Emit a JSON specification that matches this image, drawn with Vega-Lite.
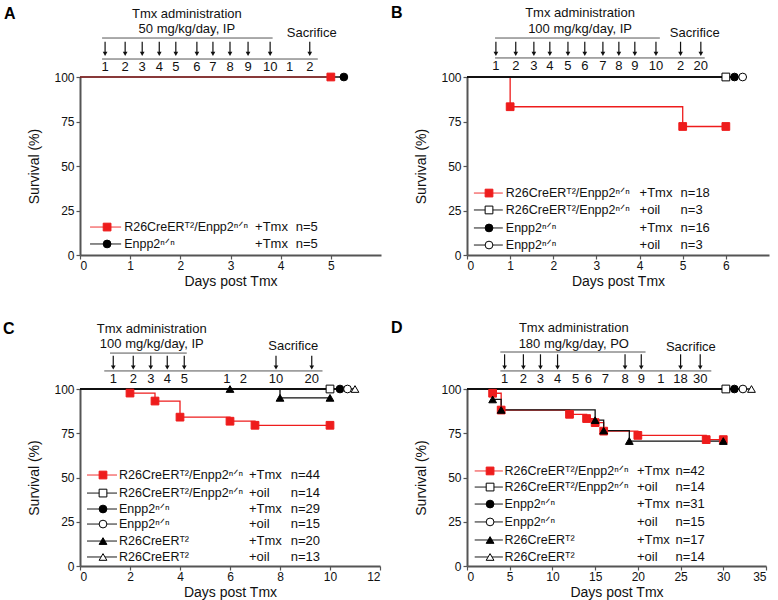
{
  "$schema": "https://vega.github.io/schema/vega-lite/v6.json",
  "padding": {"left": 3, "top": 4, "right": 2, "bottom": 2},
  "config": {
    "font": "Liberation Sans, DejaVu Sans, sans-serif",
    "view": {"stroke": null},
    "axis": {"grid": false, "domainColor": "#555", "domainWidth": 2, "tickColor": "#555", "tickWidth": 1.2, "tickSize": 4, "labelFontSize": 12, "labelColor": "#111", "titleFontSize": 14, "titleFontWeight": "normal", "titleColor": "#111"},
    "axisX": {"labelPadding": 1, "titlePadding": 3},
    "axisY": {"titlePadding": 12, "labelPadding": 2},
    "title": {"anchor": "start", "frame": "group", "fontSize": 16, "fontWeight": "bold", "color": "#000", "offset": -14},
    "text": {"fontSize": 13, "color": "#111", "baseline": "middle"}
  },
  "vconcat": [
    {"hconcat": [
      {
        "title": {"text": "A", "dx": -76},
        "width": 301, "height": 178,
        "layer": [
          {"data": {"values": [
            {"series": "ko_tmx", "day": 0, "surv": 100}, {"series": "ko_tmx", "day": 5, "surv": 100},
            {"series": "wt_tmx", "day": 0, "surv": 100}, {"series": "wt_tmx", "day": 5.26, "surv": 100}
          ]},
          "encoding": {
            "x": {"field": "day", "type": "quantitative", "scale": {"domain": [0, 6], "nice": false, "zero": false}, "axis": {"values": [0, 1, 2, 3, 4, 5]}, "title": "Days post Tmx"},
            "y": {"field": "surv", "type": "quantitative", "scale": {"domain": [0, 100], "nice": false}, "axis": {"values": [0, 25, 50, 75, 100]}, "title": "Survival (%)"}
          },
          "layer": [
            {"transform": [{"filter": "datum.series != 'ko_tmx'"}], "mark": {"type": "line", "interpolate": "step-after", "strokeWidth": 1.3, "color": "#111"}, "encoding": {"detail": {"field": "series"}}},
            {"transform": [{"filter": "datum.series == 'ko_tmx'"}], "mark": {"type": "line", "interpolate": "step-after", "strokeWidth": 1.3, "color": "#ee1c1c", "opacity": 0.5}},
            {"transform": [{"filter": "datum.day > 0"}], "mark": {"type": "point", "opacity": 1, "size": 60, "strokeWidth": 1},
             "encoding": {
               "shape": {"field": "series", "scale": {"domain": ["ko_tmx", "ko_oil", "wt_tmx", "wt_oil", "cre_tmx", "cre_oil"], "range": ["square", "square", "circle", "circle", "triangle-up", "triangle-up"]}, "legend": null},
               "fill": {"field": "series", "scale": {"domain": ["ko_tmx", "ko_oil", "wt_tmx", "wt_oil", "cre_tmx", "cre_oil"], "range": ["#ee1c1c", "#ffffff", "#000000", "#ffffff", "#000000", "#ffffff"]}, "legend": null},
               "stroke": {"field": "series", "scale": {"domain": ["ko_tmx", "ko_oil", "wt_tmx", "wt_oil", "cre_tmx", "cre_oil"], "range": ["#ee1c1c", "#000000", "#000000", "#000000", "#000000", "#000000"]}, "legend": null}
             }}
          ]},
          {"data": {"values": [
            {"text": "Tmx administration", "day": 2.13, "level": 135.4},
            {"text": "50 mg/kg/day, IP", "day": 2.13, "level": 127},
            {"text": "Sacrifice", "day": 4.62, "level": 124.7}
          ]},
          "mark": {"type": "text", "align": "center"},
          "encoding": {
            "x": {"field": "day", "type": "quantitative", "scale": {"domain": [0, 6], "nice": false, "zero": false}, "title": "Days post Tmx"},
            "y": {"field": "level", "type": "quantitative", "scale": {"domain": [0, 100], "nice": false}, "title": "Survival (%)"},
            "text": {"field": "text"}}},
          {"data": {"values": [
            {"day": 0.44, "day2": 3.84, "level": 121.9},
            {"day": 0.44, "day2": 4.74, "level": 110.1}
          ]},
          "mark": {"type": "rule", "color": "#555", "strokeWidth": 1},
          "encoding": {
            "x": {"field": "day", "type": "quantitative", "scale": {"domain": [0, 6], "nice": false, "zero": false}, "title": "Days post Tmx"},
            "x2": {"field": "day2"},
            "y": {"field": "level", "type": "quantitative", "scale": {"domain": [0, 100], "nice": false}, "title": "Survival (%)"}}},
          {"data": {"values": [
            {"day": 0.5, "lab": "1", "arrow": true}, {"day": 0.9, "lab": "2", "arrow": true}, {"day": 1.24, "lab": "3", "arrow": true},
            {"day": 1.58, "lab": "4", "arrow": true}, {"day": 1.91, "lab": "5", "arrow": true}, {"day": 2.33, "lab": "6", "arrow": true},
            {"day": 2.65, "lab": "7", "arrow": true}, {"day": 2.99, "lab": "8", "arrow": true}, {"day": 3.35, "lab": "9", "arrow": true},
            {"day": 3.79, "lab": "10", "arrow": true}, {"day": 4.18, "lab": "1", "arrow": false}, {"day": 4.58, "lab": "2", "arrow": true}
          ]},
          "encoding": {"x": {"field": "day", "type": "quantitative", "scale": {"domain": [0, 6], "nice": false, "zero": false}, "title": "Days post Tmx"}},
          "layer": [
            {"mark": {"type": "text", "align": "center"}, "encoding": {"y": {"datum": 105.7, "scale": {"domain": [0, 100], "nice": false}}, "text": {"field": "lab"}}},
            {"transform": [{"filter": "datum.arrow"}], "mark": {"type": "rule", "color": "#111", "strokeWidth": 1.2}, "encoding": {"y": {"datum": 119.8, "scale": {"domain": [0, 100], "nice": false}}, "y2": {"datum": 113.4}}},
            {"transform": [{"filter": "datum.arrow"}], "mark": {"type": "point", "shape": "triangle-down", "filled": true, "color": "#111", "size": 22, "opacity": 1}, "encoding": {"y": {"datum": 113, "scale": {"domain": [0, 100], "nice": false}}}}
          ]},
          {"data": {"values": [
            {"series": "ko_tmx", "label": "R26CreERᵀ²/Enpp2ⁿᐟⁿ", "treat": "+Tmx", "n": "n=5", "level": 15.7},
            {"series": "wt_tmx", "label": "Enpp2ⁿᐟⁿ", "treat": "+Tmx", "n": "n=5", "level": 6.2}
          ]},
          "encoding": {"y": {"field": "level", "type": "quantitative", "scale": {"domain": [0, 100], "nice": false}, "title": "Survival (%)"}},
          "layer": [
            {"mark": {"type": "rule", "strokeWidth": 1.3, "strokeOpacity": 0.7}, "encoding": {"x": {"datum": 0.2, "scale": {"domain": [0, 6], "nice": false, "zero": false}}, "x2": {"datum": 0.82},
              "stroke": {"field": "series", "scale": {"domain": ["ko_tmx", "ko_oil", "wt_tmx", "wt_oil", "cre_tmx", "cre_oil"], "range": ["#ee1c1c", "#000000", "#000000", "#000000", "#000000", "#000000"]}, "legend": null}}},
            {"mark": {"type": "point", "opacity": 1, "size": 60, "strokeWidth": 1}, "encoding": {"x": {"datum": 0.54, "scale": {"domain": [0, 6], "nice": false, "zero": false}},
              "shape": {"field": "series", "scale": {"domain": ["ko_tmx", "ko_oil", "wt_tmx", "wt_oil", "cre_tmx", "cre_oil"], "range": ["square", "square", "circle", "circle", "triangle-up", "triangle-up"]}, "legend": null},
              "fill": {"field": "series", "scale": {"domain": ["ko_tmx", "ko_oil", "wt_tmx", "wt_oil", "cre_tmx", "cre_oil"], "range": ["#ee1c1c", "#ffffff", "#000000", "#ffffff", "#000000", "#ffffff"]}, "legend": null},
              "stroke": {"field": "series", "scale": {"domain": ["ko_tmx", "ko_oil", "wt_tmx", "wt_oil", "cre_tmx", "cre_oil"], "range": ["#ee1c1c", "#000000", "#000000", "#000000", "#000000", "#000000"]}, "legend": null}}},
            {"mark": {"type": "text", "align": "left", "fontSize": 12.5}, "encoding": {"x": {"datum": 0.88, "scale": {"domain": [0, 6], "nice": false, "zero": false}}, "text": {"field": "label"}}},
            {"mark": {"type": "text", "align": "left"}, "encoding": {"x": {"datum": 3.49, "scale": {"domain": [0, 6], "nice": false, "zero": false}}, "text": {"field": "treat"}}},
            {"mark": {"type": "text", "align": "left"}, "encoding": {"x": {"datum": 4.3, "scale": {"domain": [0, 6], "nice": false, "zero": false}}, "text": {"field": "n"}}}
          ]}
        ]
      },
      {
        "title": {"text": "B", "dx": -76},
        "width": 302, "height": 178,
        "layer": [
          {"data": {"values": [
            {"series": "ko_tmx", "day": 0, "surv": 100}, {"series": "ko_tmx", "day": 1, "surv": 83.3}, {"series": "ko_tmx", "day": 5, "surv": 72.2}, {"series": "ko_tmx", "day": 6, "surv": 72.2},
            {"series": "ko_oil", "day": 0, "surv": 100}, {"series": "ko_oil", "day": 6, "surv": 100},
            {"series": "wt_tmx", "day": 0, "surv": 100}, {"series": "wt_tmx", "day": 6.2, "surv": 100},
            {"series": "wt_oil", "day": 0, "surv": 100}, {"series": "wt_oil", "day": 6.39, "surv": 100}
          ]},
          "encoding": {
            "x": {"field": "day", "type": "quantitative", "scale": {"domain": [0, 7], "nice": false, "zero": false}, "axis": {"values": [0, 1, 2, 3, 4, 5, 6]}, "title": "Days post Tmx"},
            "y": {"field": "surv", "type": "quantitative", "scale": {"domain": [0, 100], "nice": false}, "axis": {"values": [0, 25, 50, 75, 100]}, "title": "Survival (%)"}
          },
          "layer": [
            {"transform": [{"filter": "datum.series == 'ko_tmx'"}], "mark": {"type": "line", "interpolate": "step-after", "strokeWidth": 1.3, "color": "#ee1c1c"}},
            {"transform": [{"filter": "datum.series != 'ko_tmx'"}], "mark": {"type": "line", "interpolate": "step-after", "strokeWidth": 1.3, "color": "#111"}, "encoding": {"detail": {"field": "series"}}},
            {"transform": [{"filter": "datum.day > 0"}], "mark": {"type": "point", "opacity": 1, "size": 60, "strokeWidth": 1},
             "encoding": {
               "shape": {"field": "series", "scale": {"domain": ["ko_tmx", "ko_oil", "wt_tmx", "wt_oil", "cre_tmx", "cre_oil"], "range": ["square", "square", "circle", "circle", "triangle-up", "triangle-up"]}, "legend": null},
               "fill": {"field": "series", "scale": {"domain": ["ko_tmx", "ko_oil", "wt_tmx", "wt_oil", "cre_tmx", "cre_oil"], "range": ["#ee1c1c", "#ffffff", "#000000", "#ffffff", "#000000", "#ffffff"]}, "legend": null},
               "stroke": {"field": "series", "scale": {"domain": ["ko_tmx", "ko_oil", "wt_tmx", "wt_oil", "cre_tmx", "cre_oil"], "range": ["#ee1c1c", "#000000", "#000000", "#000000", "#000000", "#000000"]}, "legend": null}
             }}
          ]},
          {"data": {"values": [
            {"text": "Tmx administration", "day": 2.62, "level": 136},
            {"text": "100 mg/kg/day, IP", "day": 2.62, "level": 127},
            {"text": "Sacrifice", "day": 5.28, "level": 124.7}
          ]},
          "mark": {"type": "text", "align": "center"},
          "encoding": {
            "x": {"field": "day", "type": "quantitative", "scale": {"domain": [0, 7], "nice": false, "zero": false}, "title": "Days post Tmx"},
            "y": {"field": "level", "type": "quantitative", "scale": {"domain": [0, 100], "nice": false}, "title": "Survival (%)"},
            "text": {"field": "text"}}},
          {"data": {"values": [
            {"day": 0.65, "day2": 4.47, "level": 121.9},
            {"day": 0.65, "day2": 5.51, "level": 110.7}
          ]},
          "mark": {"type": "rule", "color": "#555", "strokeWidth": 1},
          "encoding": {
            "x": {"field": "day", "type": "quantitative", "scale": {"domain": [0, 7], "nice": false, "zero": false}, "title": "Days post Tmx"},
            "x2": {"field": "day2"},
            "y": {"field": "level", "type": "quantitative", "scale": {"domain": [0, 100], "nice": false}, "title": "Survival (%)"}}},
          {"data": {"values": [
            {"day": 0.67, "lab": "1", "arrow": true}, {"day": 1.13, "lab": "2", "arrow": true}, {"day": 1.55, "lab": "3", "arrow": true},
            {"day": 1.92, "lab": "4", "arrow": true}, {"day": 2.34, "lab": "5", "arrow": true}, {"day": 2.73, "lab": "6", "arrow": true},
            {"day": 3.15, "lab": "7", "arrow": true}, {"day": 3.52, "lab": "8", "arrow": true}, {"day": 3.89, "lab": "9", "arrow": true},
            {"day": 4.38, "lab": "10", "arrow": true}, {"day": 4.95, "lab": "2", "arrow": true}, {"day": 5.42, "lab": "20", "arrow": true}
          ]},
          "encoding": {"x": {"field": "day", "type": "quantitative", "scale": {"domain": [0, 7], "nice": false, "zero": false}, "title": "Days post Tmx"}},
          "layer": [
            {"mark": {"type": "text", "align": "center"}, "encoding": {"y": {"datum": 106, "scale": {"domain": [0, 100], "nice": false}}, "text": {"field": "lab"}}},
            {"transform": [{"filter": "datum.arrow"}], "mark": {"type": "rule", "color": "#111", "strokeWidth": 1.2}, "encoding": {"y": {"datum": 119.8, "scale": {"domain": [0, 100], "nice": false}}, "y2": {"datum": 113.4}}},
            {"transform": [{"filter": "datum.arrow"}], "mark": {"type": "point", "shape": "triangle-down", "filled": true, "color": "#111", "size": 22, "opacity": 1}, "encoding": {"y": {"datum": 113, "scale": {"domain": [0, 100], "nice": false}}}}
          ]},
          {"data": {"values": [
            {"series": "ko_tmx", "label": "R26CreERᵀ²/Enpp2ⁿᐟⁿ", "treat": "+Tmx", "n": "n=18", "level": 34.8},
            {"series": "ko_oil", "label": "R26CreERᵀ²/Enpp2ⁿᐟⁿ", "treat": "+oil", "n": "n=3", "level": 25.3},
            {"series": "wt_tmx", "label": "Enpp2ⁿᐟⁿ", "treat": "+Tmx", "n": "n=16", "level": 15.2},
            {"series": "wt_oil", "label": "Enpp2ⁿᐟⁿ", "treat": "+oil", "n": "n=3", "level": 5.6}
          ]},
          "encoding": {"y": {"field": "level", "type": "quantitative", "scale": {"domain": [0, 100], "nice": false}, "title": "Survival (%)"}},
          "layer": [
            {"mark": {"type": "rule", "strokeWidth": 1.3, "strokeOpacity": 0.7}, "encoding": {"x": {"datum": 0.16, "scale": {"domain": [0, 7], "nice": false, "zero": false}}, "x2": {"datum": 0.83},
              "stroke": {"field": "series", "scale": {"domain": ["ko_tmx", "ko_oil", "wt_tmx", "wt_oil", "cre_tmx", "cre_oil"], "range": ["#ee1c1c", "#000000", "#000000", "#000000", "#000000", "#000000"]}, "legend": null}}},
            {"mark": {"type": "point", "opacity": 1, "size": 60, "strokeWidth": 1}, "encoding": {"x": {"datum": 0.51, "scale": {"domain": [0, 7], "nice": false, "zero": false}},
              "shape": {"field": "series", "scale": {"domain": ["ko_tmx", "ko_oil", "wt_tmx", "wt_oil", "cre_tmx", "cre_oil"], "range": ["square", "square", "circle", "circle", "triangle-up", "triangle-up"]}, "legend": null},
              "fill": {"field": "series", "scale": {"domain": ["ko_tmx", "ko_oil", "wt_tmx", "wt_oil", "cre_tmx", "cre_oil"], "range": ["#ee1c1c", "#ffffff", "#000000", "#ffffff", "#000000", "#ffffff"]}, "legend": null},
              "stroke": {"field": "series", "scale": {"domain": ["ko_tmx", "ko_oil", "wt_tmx", "wt_oil", "cre_tmx", "cre_oil"], "range": ["#ee1c1c", "#000000", "#000000", "#000000", "#000000", "#000000"]}, "legend": null}}},
            {"mark": {"type": "text", "align": "left", "fontSize": 12.5}, "encoding": {"x": {"datum": 0.9, "scale": {"domain": [0, 7], "nice": false, "zero": false}}, "text": {"field": "label"}}},
            {"mark": {"type": "text", "align": "left"}, "encoding": {"x": {"datum": 4.0, "scale": {"domain": [0, 7], "nice": false, "zero": false}}, "text": {"field": "treat"}}},
            {"mark": {"type": "text", "align": "left"}, "encoding": {"x": {"datum": 4.95, "scale": {"domain": [0, 7], "nice": false, "zero": false}}, "text": {"field": "n"}}}
          ]}
        ]
      }
    ], "spacing": 10},
    {"hconcat": [
      {
        "title": {"text": "C", "dx": -77},
        "width": 300, "height": 177,
        "layer": [
          {"data": {"values": [
            {"series": "ko_tmx", "day": 0, "surv": 100}, {"series": "ko_tmx", "day": 2, "surv": 97.7}, {"series": "ko_tmx", "day": 3, "surv": 93.2}, {"series": "ko_tmx", "day": 4, "surv": 84.1},
            {"series": "ko_tmx", "day": 6, "surv": 81.8}, {"series": "ko_tmx", "day": 7, "surv": 79.5}, {"series": "ko_tmx", "day": 10, "surv": 79.5},
            {"series": "cre_tmx", "day": 0, "surv": 100}, {"series": "cre_tmx", "day": 6, "surv": 100}, {"series": "cre_tmx", "day": 8, "surv": 95}, {"series": "cre_tmx", "day": 10, "surv": 95},
            {"series": "ko_oil", "day": 0, "surv": 100}, {"series": "ko_oil", "day": 10, "surv": 100},
            {"series": "wt_tmx", "day": 0, "surv": 100}, {"series": "wt_tmx", "day": 10.4, "surv": 100},
            {"series": "wt_oil", "day": 0, "surv": 100}, {"series": "wt_oil", "day": 10.7, "surv": 100},
            {"series": "cre_oil", "day": 0, "surv": 100}, {"series": "cre_oil", "day": 11, "surv": 100}
          ]},
          "encoding": {
            "x": {"field": "day", "type": "quantitative", "scale": {"domain": [0, 12], "nice": false, "zero": false}, "axis": {"values": [0, 2, 4, 6, 8, 10, 12]}, "title": "Days post Tmx"},
            "y": {"field": "surv", "type": "quantitative", "scale": {"domain": [0, 100], "nice": false}, "axis": {"values": [0, 25, 50, 75, 100]}, "title": "Survival (%)"}
          },
          "layer": [
            {"transform": [{"filter": "datum.series == 'ko_tmx'"}], "mark": {"type": "line", "interpolate": "step-after", "strokeWidth": 1.3, "color": "#ee1c1c"}},
            {"transform": [{"filter": "datum.series != 'ko_tmx'"}], "mark": {"type": "line", "interpolate": "step-after", "strokeWidth": 1.3, "color": "#111"}, "encoding": {"detail": {"field": "series"}}},
            {"transform": [{"filter": "datum.day > 0"}], "mark": {"type": "point", "opacity": 1, "size": 60, "strokeWidth": 1},
             "encoding": {
               "shape": {"field": "series", "scale": {"domain": ["ko_tmx", "ko_oil", "wt_tmx", "wt_oil", "cre_tmx", "cre_oil"], "range": ["square", "square", "circle", "circle", "triangle-up", "triangle-up"]}, "legend": null},
               "fill": {"field": "series", "scale": {"domain": ["ko_tmx", "ko_oil", "wt_tmx", "wt_oil", "cre_tmx", "cre_oil"], "range": ["#ee1c1c", "#ffffff", "#000000", "#ffffff", "#000000", "#ffffff"]}, "legend": null},
               "stroke": {"field": "series", "scale": {"domain": ["ko_tmx", "ko_oil", "wt_tmx", "wt_oil", "cre_tmx", "cre_oil"], "range": ["#ee1c1c", "#000000", "#000000", "#000000", "#000000", "#000000"]}, "legend": null}
             }}
          ]},
          {"data": {"values": [
            {"text": "Tmx administration", "day": 2.87, "level": 134},
            {"text": "100 mg/kg/day, IP", "day": 2.87, "level": 125.4},
            {"text": "Sacrifice", "day": 8.53, "level": 124.3}
          ]},
          "mark": {"type": "text", "align": "center"},
          "encoding": {
            "x": {"field": "day", "type": "quantitative", "scale": {"domain": [0, 12], "nice": false, "zero": false}, "title": "Days post Tmx"},
            "y": {"field": "level", "type": "quantitative", "scale": {"domain": [0, 100], "nice": false}, "title": "Survival (%)"},
            "text": {"field": "text"}}},
          {"data": {"values": [
            {"day": 1.2, "day2": 4.27, "level": 120.3},
            {"day": 0.97, "day2": 9.7, "level": 110.2}
          ]},
          "mark": {"type": "rule", "color": "#555", "strokeWidth": 1},
          "encoding": {
            "x": {"field": "day", "type": "quantitative", "scale": {"domain": [0, 12], "nice": false, "zero": false}, "title": "Days post Tmx"},
            "x2": {"field": "day2"},
            "y": {"field": "level", "type": "quantitative", "scale": {"domain": [0, 100], "nice": false}, "title": "Survival (%)"}}},
          {"data": {"values": [
            {"day": 1.33, "lab": "1", "arrow": true}, {"day": 2.13, "lab": "2", "arrow": true}, {"day": 2.83, "lab": "3", "arrow": true},
            {"day": 3.49, "lab": "4", "arrow": true}, {"day": 4.17, "lab": "5", "arrow": true}, {"day": 5.87, "lab": "1", "arrow": false},
            {"day": 6.53, "lab": "2", "arrow": false}, {"day": 7.84, "lab": "10", "arrow": true}, {"day": 9.27, "lab": "20", "arrow": true}
          ]},
          "encoding": {"x": {"field": "day", "type": "quantitative", "scale": {"domain": [0, 12], "nice": false, "zero": false}, "title": "Days post Tmx"}},
          "layer": [
            {"mark": {"type": "text", "align": "center"}, "encoding": {"y": {"datum": 105.6, "scale": {"domain": [0, 100], "nice": false}}, "text": {"field": "lab"}}},
            {"transform": [{"filter": "datum.arrow"}], "mark": {"type": "rule", "color": "#111", "strokeWidth": 1.2}, "encoding": {"y": {"datum": 118.8, "scale": {"domain": [0, 100], "nice": false}}, "y2": {"datum": 112.6}}},
            {"transform": [{"filter": "datum.arrow"}], "mark": {"type": "point", "shape": "triangle-down", "filled": true, "color": "#111", "size": 22, "opacity": 1}, "encoding": {"y": {"datum": 112.2, "scale": {"domain": [0, 100], "nice": false}}}}
          ]},
          {"data": {"values": [
            {"series": "ko_tmx", "label": "R26CreERᵀ²/Enpp2ⁿᐟⁿ", "treat": "+Tmx", "n": "n=44", "level": 51.4},
            {"series": "ko_oil", "label": "R26CreERᵀ²/Enpp2ⁿᐟⁿ", "treat": "+oil", "n": "n=14", "level": 41.2},
            {"series": "wt_tmx", "label": "Enpp2ⁿᐟⁿ", "treat": "+Tmx", "n": "n=29", "level": 32.2},
            {"series": "wt_oil", "label": "Enpp2ⁿᐟⁿ", "treat": "+oil", "n": "n=15", "level": 23.7},
            {"series": "cre_tmx", "label": "R26CreERᵀ²", "treat": "+Tmx", "n": "n=20", "level": 14.1},
            {"series": "cre_oil", "label": "R26CreERᵀ²", "treat": "+oil", "n": "n=13", "level": 5.1}
          ]},
          "encoding": {"y": {"field": "level", "type": "quantitative", "scale": {"domain": [0, 100], "nice": false}, "title": "Survival (%)"}},
          "layer": [
            {"mark": {"type": "rule", "strokeWidth": 1.3, "strokeOpacity": 0.7}, "encoding": {"x": {"datum": 0.28, "scale": {"domain": [0, 12], "nice": false, "zero": false}}, "x2": {"datum": 1.48},
              "stroke": {"field": "series", "scale": {"domain": ["ko_tmx", "ko_oil", "wt_tmx", "wt_oil", "cre_tmx", "cre_oil"], "range": ["#ee1c1c", "#000000", "#000000", "#000000", "#000000", "#000000"]}, "legend": null}}},
            {"mark": {"type": "point", "opacity": 1, "size": 60, "strokeWidth": 1}, "encoding": {"x": {"datum": 0.92, "scale": {"domain": [0, 12], "nice": false, "zero": false}},
              "shape": {"field": "series", "scale": {"domain": ["ko_tmx", "ko_oil", "wt_tmx", "wt_oil", "cre_tmx", "cre_oil"], "range": ["square", "square", "circle", "circle", "triangle-up", "triangle-up"]}, "legend": null},
              "fill": {"field": "series", "scale": {"domain": ["ko_tmx", "ko_oil", "wt_tmx", "wt_oil", "cre_tmx", "cre_oil"], "range": ["#ee1c1c", "#ffffff", "#000000", "#ffffff", "#000000", "#ffffff"]}, "legend": null},
              "stroke": {"field": "series", "scale": {"domain": ["ko_tmx", "ko_oil", "wt_tmx", "wt_oil", "cre_tmx", "cre_oil"], "range": ["#ee1c1c", "#000000", "#000000", "#000000", "#000000", "#000000"]}, "legend": null}}},
            {"mark": {"type": "text", "align": "left", "fontSize": 12.5}, "encoding": {"x": {"datum": 1.56, "scale": {"domain": [0, 12], "nice": false, "zero": false}}, "text": {"field": "label"}}},
            {"mark": {"type": "text", "align": "left"}, "encoding": {"x": {"datum": 6.76, "scale": {"domain": [0, 12], "nice": false, "zero": false}}, "text": {"field": "treat"}}},
            {"mark": {"type": "text", "align": "left"}, "encoding": {"x": {"datum": 8.43, "scale": {"domain": [0, 12], "nice": false, "zero": false}}, "text": {"field": "n"}}}
          ]}
        ]
      },
      {
        "title": {"text": "D", "dx": -76},
        "width": 299, "height": 177,
        "layer": [
          {"data": {"values": [
            {"series": "ko_tmx", "day": 0, "surv": 100}, {"series": "ko_tmx", "day": 3, "surv": 97.6}, {"series": "ko_tmx", "day": 4, "surv": 88.1}, {"series": "ko_tmx", "day": 12, "surv": 85.7},
            {"series": "ko_tmx", "day": 14, "surv": 83.3}, {"series": "ko_tmx", "day": 15, "surv": 81.0}, {"series": "ko_tmx", "day": 16, "surv": 76.2}, {"series": "ko_tmx", "day": 20, "surv": 73.8},
            {"series": "ko_tmx", "day": 28, "surv": 71.4}, {"series": "ko_tmx", "day": 30, "surv": 71.4},
            {"series": "cre_tmx", "day": 0, "surv": 100}, {"series": "cre_tmx", "day": 3, "surv": 94.1}, {"series": "cre_tmx", "day": 4, "surv": 88.2}, {"series": "cre_tmx", "day": 15, "surv": 82.4},
            {"series": "cre_tmx", "day": 16, "surv": 76.5}, {"series": "cre_tmx", "day": 19, "surv": 70.6}, {"series": "cre_tmx", "day": 30, "surv": 70.6},
            {"series": "ko_oil", "day": 0, "surv": 100}, {"series": "ko_oil", "day": 30.3, "surv": 100},
            {"series": "wt_tmx", "day": 0, "surv": 100}, {"series": "wt_tmx", "day": 31.3, "surv": 100},
            {"series": "wt_oil", "day": 0, "surv": 100}, {"series": "wt_oil", "day": 32.3, "surv": 100},
            {"series": "cre_oil", "day": 0, "surv": 100}, {"series": "cre_oil", "day": 33.3, "surv": 100}
          ]},
          "encoding": {
            "x": {"field": "day", "type": "quantitative", "scale": {"domain": [0, 35], "nice": false, "zero": false}, "axis": {"values": [0, 5, 10, 15, 20, 25, 30, 35]}, "title": "Days post Tmx"},
            "y": {"field": "surv", "type": "quantitative", "scale": {"domain": [0, 100], "nice": false}, "axis": {"values": [0, 25, 50, 75, 100]}, "title": "Survival (%)"}
          },
          "layer": [
            {"transform": [{"filter": "datum.series == 'ko_tmx'"}], "mark": {"type": "line", "interpolate": "step-after", "strokeWidth": 1.3, "color": "#ee1c1c"}},
            {"transform": [{"filter": "datum.series != 'ko_tmx'"}], "mark": {"type": "line", "interpolate": "step-after", "strokeWidth": 1.3, "color": "#111"}, "encoding": {"detail": {"field": "series"}}},
            {"transform": [{"filter": "datum.day > 0"}], "mark": {"type": "point", "opacity": 1, "size": 60, "strokeWidth": 1},
             "encoding": {
               "shape": {"field": "series", "scale": {"domain": ["ko_tmx", "ko_oil", "wt_tmx", "wt_oil", "cre_tmx", "cre_oil"], "range": ["square", "square", "circle", "circle", "triangle-up", "triangle-up"]}, "legend": null},
               "fill": {"field": "series", "scale": {"domain": ["ko_tmx", "ko_oil", "wt_tmx", "wt_oil", "cre_tmx", "cre_oil"], "range": ["#ee1c1c", "#ffffff", "#000000", "#ffffff", "#000000", "#ffffff"]}, "legend": null},
               "stroke": {"field": "series", "scale": {"domain": ["ko_tmx", "ko_oil", "wt_tmx", "wt_oil", "cre_tmx", "cre_oil"], "range": ["#ee1c1c", "#000000", "#000000", "#000000", "#000000", "#000000"]}, "legend": null}
             }}
          ]},
          {"data": {"values": [
            {"text": "Tmx administration", "day": 12.5, "level": 134.4},
            {"text": "180 mg/kg/day, PO", "day": 12.5, "level": 125.4},
            {"text": "Sacrifice", "day": 26.2, "level": 123.7}
          ]},
          "mark": {"type": "text", "align": "center"},
          "encoding": {
            "x": {"field": "day", "type": "quantitative", "scale": {"domain": [0, 35], "nice": false, "zero": false}, "title": "Days post Tmx"},
            "y": {"field": "level", "type": "quantitative", "scale": {"domain": [0, 100], "nice": false}, "title": "Survival (%)"},
            "text": {"field": "text"}}},
          {"data": {"values": [
            {"day": 3.9, "day2": 20.9, "level": 120.9},
            {"day": 3.9, "day2": 28.6, "level": 110.2}
          ]},
          "mark": {"type": "rule", "color": "#555", "strokeWidth": 1},
          "encoding": {
            "x": {"field": "day", "type": "quantitative", "scale": {"domain": [0, 35], "nice": false, "zero": false}, "title": "Days post Tmx"},
            "x2": {"field": "day2"},
            "y": {"field": "level", "type": "quantitative", "scale": {"domain": [0, 100], "nice": false}, "title": "Survival (%)"}}},
          {"data": {"values": [
            {"day": 4.4, "lab": "1", "arrow": true}, {"day": 6.6, "lab": "2", "arrow": true}, {"day": 8.6, "lab": "3", "arrow": true},
            {"day": 10.6, "lab": "4", "arrow": true}, {"day": 12.7, "lab": "5", "arrow": false}, {"day": 14.2, "lab": "6", "arrow": false},
            {"day": 16.2, "lab": "7", "arrow": false}, {"day": 18.5, "lab": "8", "arrow": true}, {"day": 20.4, "lab": "9", "arrow": true},
            {"day": 22.7, "lab": "1", "arrow": false}, {"day": 25.0, "lab": "18", "arrow": true}, {"day": 27.3, "lab": "30", "arrow": true}
          ]},
          "encoding": {"x": {"field": "day", "type": "quantitative", "scale": {"domain": [0, 35], "nice": false, "zero": false}, "title": "Days post Tmx"}},
          "layer": [
            {"mark": {"type": "text", "align": "center"}, "encoding": {"y": {"datum": 105.6, "scale": {"domain": [0, 100], "nice": false}}, "text": {"field": "lab"}}},
            {"transform": [{"filter": "datum.arrow"}], "mark": {"type": "rule", "color": "#111", "strokeWidth": 1.2}, "encoding": {"y": {"datum": 119.6, "scale": {"domain": [0, 100], "nice": false}}, "y2": {"datum": 112.6}}},
            {"transform": [{"filter": "datum.arrow"}], "mark": {"type": "point", "shape": "triangle-down", "filled": true, "color": "#111", "size": 22, "opacity": 1}, "encoding": {"y": {"datum": 112.2, "scale": {"domain": [0, 100], "nice": false}}}}
          ]},
          {"data": {"values": [
            {"series": "ko_tmx", "label": "R26CreERᵀ²/Enpp2ⁿᐟⁿ", "treat": "+Tmx", "n": "n=42", "level": 53.7},
            {"series": "ko_oil", "label": "R26CreERᵀ²/Enpp2ⁿᐟⁿ", "treat": "+oil", "n": "n=14", "level": 44.6},
            {"series": "wt_tmx", "label": "Enpp2ⁿᐟⁿ", "treat": "+Tmx", "n": "n=31", "level": 35.0},
            {"series": "wt_oil", "label": "Enpp2ⁿᐟⁿ", "treat": "+oil", "n": "n=15", "level": 24.9},
            {"series": "cre_tmx", "label": "R26CreERᵀ²", "treat": "+Tmx", "n": "n=17", "level": 14.7},
            {"series": "cre_oil", "label": "R26CreERᵀ²", "treat": "+oil", "n": "n=14", "level": 5.1}
          ]},
          "encoding": {"y": {"field": "level", "type": "quantitative", "scale": {"domain": [0, 100], "nice": false}, "title": "Survival (%)"}},
          "layer": [
            {"mark": {"type": "rule", "strokeWidth": 1.3, "strokeOpacity": 0.7}, "encoding": {"x": {"datum": 0.9, "scale": {"domain": [0, 35], "nice": false, "zero": false}}, "x2": {"datum": 4.2},
              "stroke": {"field": "series", "scale": {"domain": ["ko_tmx", "ko_oil", "wt_tmx", "wt_oil", "cre_tmx", "cre_oil"], "range": ["#ee1c1c", "#000000", "#000000", "#000000", "#000000", "#000000"]}, "legend": null}}},
            {"mark": {"type": "point", "opacity": 1, "size": 60, "strokeWidth": 1}, "encoding": {"x": {"datum": 2.7, "scale": {"domain": [0, 35], "nice": false, "zero": false}},
              "shape": {"field": "series", "scale": {"domain": ["ko_tmx", "ko_oil", "wt_tmx", "wt_oil", "cre_tmx", "cre_oil"], "range": ["square", "square", "circle", "circle", "triangle-up", "triangle-up"]}, "legend": null},
              "fill": {"field": "series", "scale": {"domain": ["ko_tmx", "ko_oil", "wt_tmx", "wt_oil", "cre_tmx", "cre_oil"], "range": ["#ee1c1c", "#ffffff", "#000000", "#ffffff", "#000000", "#ffffff"]}, "legend": null},
              "stroke": {"field": "series", "scale": {"domain": ["ko_tmx", "ko_oil", "wt_tmx", "wt_oil", "cre_tmx", "cre_oil"], "range": ["#ee1c1c", "#000000", "#000000", "#000000", "#000000", "#000000"]}, "legend": null}}},
            {"mark": {"type": "text", "align": "left", "fontSize": 12.5}, "encoding": {"x": {"datum": 4.4, "scale": {"domain": [0, 35], "nice": false, "zero": false}}, "text": {"field": "label"}}},
            {"mark": {"type": "text", "align": "left"}, "encoding": {"x": {"datum": 19.9, "scale": {"domain": [0, 35], "nice": false, "zero": false}}, "text": {"field": "treat"}}},
            {"mark": {"type": "text", "align": "left"}, "encoding": {"x": {"datum": 24.4, "scale": {"domain": [0, 35], "nice": false, "zero": false}}, "text": {"field": "n"}}}
          ]}
        ]
      }
    ], "spacing": 10}
  ],
  "spacing": 32
}
